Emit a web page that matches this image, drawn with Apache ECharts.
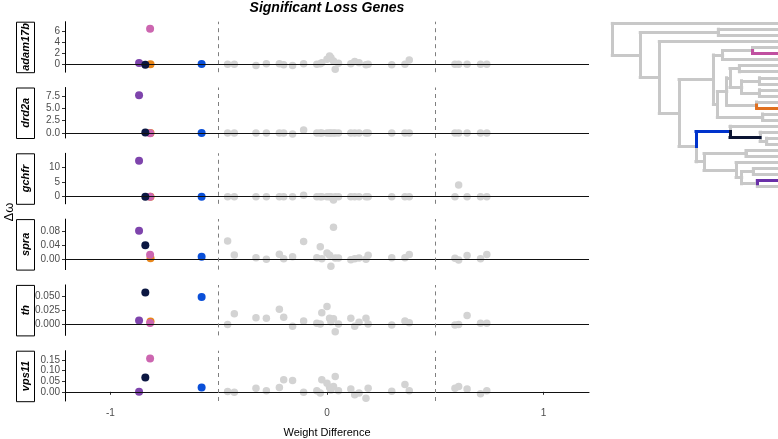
<!DOCTYPE html>
<html>
<head>
<meta charset="utf-8">
<script src="https://cdn.jsdelivr.net/npm/echarts@6/dist/echarts.min.js"></script>
<style>
html, body { margin: 0; padding: 0; background: #fff; }
#main { width: 778px; height: 439px; }
</style>
</head>
<body>
<div id="main"></div>
<script>
// facets
var genes = ['adam17b', 'drd2a', 'gchfr', 'spra', 'th', 'vps11'];

// background branches: weight difference (shared) and delta omega per gene
var greyX = [-0.459, -0.428, -0.328, -0.280, -0.220, -0.200, -0.159, -0.108, -0.047, -0.031,
             -0.024, 0.000, 0.012, 0.018, 0.030, 0.038, 0.053, 0.110, 0.128, 0.148,
             0.180, 0.190, 0.299, 0.360, 0.380, 0.591, 0.608, 0.647, 0.709, 0.738];
var greyAdam17b = [0, 0, -0.2, 0.1, 0.1, -0.1, -0.2, 0.1, 0, 0.1, 0.3, 0.9, 1.5, 1.2, 0.6, -0.9, 0.2, 0.1, 0.5, 0.3, -0.1, 0, -0.1, 0, 0.8, 0, 0, 0, 0, 0];
var greyDrd2a = [0, 0, 0, 0, 0, 0, -0.2, 0.6, 0, 0, 0, 0, 0, 0, 0, 0, 0, 0, 0, 0, 0, 0, 0, 0, 0, 0, 0, 0, 0, 0];
var greyGchfr = [0, 0, 0, 0, 0, 0, 0, 0.5, 0, 0, 0, 0, 0, 0, -1.1, 0, 0, 0, 0, 0, 0, 0, 0, 0, 0, 0, 3.9, 0, 0, 0];
var greySpra = [0.053, 0.012, 0.004, -0.001, 0.014, 0.001, 0.007, 0.051, 0.004, 0.036, 0.001, 0.018, 0.011, -0.021, 0.093, 0.003, 0.003, -0.002, 0.001, 0.003, -0.001, 0.011, 0.004, 0.004, 0.013, 0.002, -0.003, 0.010, 0.001, 0.013];
var greyTh = [-0.001, 0.018, 0.011, 0.010, 0.026, 0.012, -0.004, 0.005, 0.001, 0.0, 0.020, 0.031, 0.010, 0.004, 0.009, -0.014, 0.0, 0.010, -0.004, 0.003, 0.010, 0.0, -0.002, 0.005, 0.002, -0.002, -0.001, 0.015, 0.001, 0.001];
var greyVps11 = [0.002, -0.002, 0.017, 0.005, 0.021, 0.057, 0.054, -0.002, 0.005, -0.006, 0.057, 0.041, 0.021, 0.009, 0.025, 0.073, 0.005, 0.013, -0.014, -0.006, -0.030, 0.017, 0.003, 0.035, 0.005, 0.017, 0.025, 0.013, -0.009, 0.005];
var greyY = [greyAdam17b, greyDrd2a, greyGchfr, greySpra, greyTh, greyVps11];

// highlighted lineages (drawing order), their weight difference and delta omega per gene
var lineages = ['orange', 'pink', 'purple', 'navy', 'blue'];
var lineageColors = ['#E8861A', '#CC66B0', '#7E44AC', '#0B1742', '#0A4FD8'];
var lineageX = [-0.815, -0.817, -0.868, -0.839, -0.579];
var orangeY = [0.0, 0.0, 0.0, 0.002, 0.0041, null];
var pinkY = [6.4, -0.06, 0.0, 0.0126, 0.0018, 0.158];
var purpleY = [0.23, 7.65, 12.1, 0.083, 0.0059, 0.0];
var navyY = [-0.1, 0.08, 0.0, 0.040, 0.0559, 0.068];
var blueY = [0.05, 0.0, 0.0, 0.0067, 0.048, 0.020];
var lineageY = [orangeY, pinkY, purpleY, navyY, blueY];

// y axes
var yTicks = [[0, 2, 4, 6], [0, 2.5, 5, 7.5], [0, 5, 10], [0, 0.04, 0.08], [0, 0.025, 0.05], [0, 0.05, 0.1, 0.15]];
var yDigits = [0, 1, 0, 2, 3, 2];
var yMin = [-1.42, -1.03, -2.4, -0.031, -0.0205, -0.0435];
var yMax = [7.68, 9.2, 14.6, 0.117, 0.0696, 0.195];
var xTicks = [-1, 0, 1];

// tree: node depth (0 = root, 100 = tips), colour of the branch leading to it
function N(d, kids, col) { return { d: d, kids: kids, col: col }; }
function L(col) { return { d: 100, kids: [], col: col }; }
var tree = N(0, [
  L(),
  N(17, [
    N(64.5, [L(), L()]),
    N(28.6, [
      L(),
      N(40.6, [
        N(61.5, [
          N(67.1, [N(85.4, [L(), L('#C050A0')]), L()]),
          N(63.9, [
            N(69.6, [
              N(71.6, [N(77.3, [L(), L()]), N(78.7, [N(89.5, [L(), L()]), N(89.5, [L(), L()])])]),
              N(87.8, [L(), L('#E07020')])
            ]),
            N(91.5, [L(), L()])
          ])
        ]),
        N(50.9, [
          N(71.6, [L(), N(89.9, [L(), N(93.9, [L(), L()])], '#0B1433')], '#0033CC'),
          N(55.8, [
            N(81.3, [L(), L()]),
            N(75.3, [L(), N(78.7, [N(85.8, [L(), L()]), N(88.2, [L('#6A30A8'), L()])])])
          ])
        ])
      ])
    ])
  ])
]);

var leafCount = 0;
function place(node) {
  if (!node.kids.length) { leafCount += 1; node.y = leafCount; return; }
  node.kids.forEach(place);
  node.y = (node.kids[0].y + node.kids[node.kids.length - 1].y) / 2;
}
place(tree);

var greySegs = [], colSegs = [];
function segs(node) {
  node.kids.forEach(function (k) {
    var v = { coords: [[node.d, node.y], [node.d, k.y]] };
    var h = { coords: [[node.d, k.y], [k.d, k.y]] };
    if (k.col) {
      v.lineStyle = { color: k.col }; h.lineStyle = { color: k.col };
      colSegs.push(v, h);
    } else {
      greySegs.push(v, h);
    }
    segs(k);
  });
}
segs(tree);

var font = 'Liberation Sans, Arial, Helvetica, sans-serif';
var panelTop = 21.7, panelStep = 65.8, panelH = 50.5;
var grids = [], xAxes = [], yAxes = [], series = [], graphics = [];

genes.forEach(function (g, i) {
  var top = panelTop + panelStep * i;
  var last = i === genes.length - 1;
  grids.push({ left: 65, top: top, width: 524, height: panelH });
  xAxes.push({
    gridIndex: i, type: 'value', min: -1.21, max: 1.21,
    show: last,
    axisLine: { show: true, lineStyle: { color: '#000', width: 1 } },
    axisTick: { show: true, length: 3, lineStyle: { color: '#333' }, customValues: xTicks },
    axisLabel: { show: true, color: '#4d4d4d', fontSize: 10, fontFamily: font, margin: 7, customValues: xTicks },
    splitLine: { show: false },
    name: last ? 'Weight Difference' : '',
    nameLocation: 'middle', nameGap: 26,
    nameTextStyle: { color: '#000', fontSize: 11, fontFamily: font }
  });
  (function (d) {
    yAxes.push({
      gridIndex: i, type: 'value', min: yMin[i], max: yMax[i],
      axisLine: { show: true, onZero: false, lineStyle: { color: '#000', width: 1 } },
      axisTick: { show: true, length: 3, lineStyle: { color: '#333' }, customValues: yTicks[i] },
      axisLabel: {
        show: true, color: '#4d4d4d', fontSize: 10, fontFamily: font, margin: 5,
        customValues: yTicks[i],
        formatter: function (v) { return Number(v).toFixed(d); }
      },
      splitLine: { show: false }
    });
  })(yDigits[i]);

  series.push({
    type: 'scatter', xAxisIndex: i, yAxisIndex: i, z: 2,
    symbolSize: 7.5, silent: true,
    itemStyle: { color: '#D3D3D3', opacity: 1 },
    data: greyX.map(function (x, k) { return [x, greyY[i][k]]; })
  });
  series.push({
    type: 'line', xAxisIndex: i, yAxisIndex: i, z: 3, data: [], silent: true,
    markLine: {
      silent: true, symbol: 'none', animation: false,
      label: { show: false },
      data: [
        { yAxis: 0, lineStyle: { color: '#111', width: 1.2, type: 'solid' } },
        { xAxis: -0.5, lineStyle: { color: '#7f7f7f', width: 1, type: [4, 4] } },
        { xAxis: 0.5, lineStyle: { color: '#7f7f7f', width: 1, type: [4, 4] } }
      ]
    }
  });
  var pts = [];
  lineages.forEach(function (name, j) {
    var y = lineageY[j][i];
    if (y === null) return;
    pts.push({ value: [lineageX[j], y], itemStyle: { color: lineageColors[j], opacity: 1 } });
  });
  series.push({
    type: 'scatter', xAxisIndex: i, yAxisIndex: i, z: 4,
    symbolSize: 8, silent: true,
    itemStyle: { opacity: 1 },
    data: pts
  });

  graphics.push({
    type: 'rect', left: 16, top: top, silent: true,
    shape: { width: 18, height: panelH },
    style: { fill: '#fff', stroke: '#000', lineWidth: 1 }
  });
  graphics.push({
    type: 'text', x: 25.5, y: top + panelH / 2, rotation: Math.PI / 2, silent: true,
    style: {
      text: g, fill: '#000', font: 'italic bold 11px ' + font,
      textAlign: 'center', textVerticalAlign: 'middle'
    }
  });
});

// tree grid
var tg = genes.length;
grids.push({ left: 612.3, top: 23.3, width: 164.4, height: 163.4 });
xAxes.push({ gridIndex: tg, type: 'value', min: 0, max: 100, show: false });
yAxes.push({ gridIndex: tg, type: 'value', min: 1, max: leafCount, inverse: true, show: false });
series.push({
  type: 'lines', coordinateSystem: 'cartesian2d', xAxisIndex: tg, yAxisIndex: tg,
  silent: true, z: 2,
  lineStyle: { color: '#C8C8C8', width: 3, opacity: 1, cap: 'square' },
  data: greySegs
});
series.push({
  type: 'lines', coordinateSystem: 'cartesian2d', xAxisIndex: tg, yAxisIndex: tg,
  silent: true, z: 3,
  lineStyle: { width: 3, opacity: 1, cap: 'square' },
  data: colSegs
});

graphics.push({
  type: 'text', x: 9, y: 212, rotation: Math.PI / 2, silent: true,
  style: { text: 'Δω', fill: '#000', font: '13px ' + font, textAlign: 'center', textVerticalAlign: 'middle' }
});

var chart = echarts.init(document.getElementById('main'));
chart.setOption({
  animation: false,
  backgroundColor: '#fff',
  title: {
    text: 'Significant Loss Genes', left: 327, top: 1, textAlign: 'center', padding: 0,
    textStyle: { fontSize: 14, fontWeight: 'bold', fontStyle: 'italic', color: '#000', fontFamily: font }
  },
  grid: grids,
  xAxis: xAxes,
  yAxis: yAxes,
  series: series,
  graphic: graphics
});
</script>
</body>
</html>
